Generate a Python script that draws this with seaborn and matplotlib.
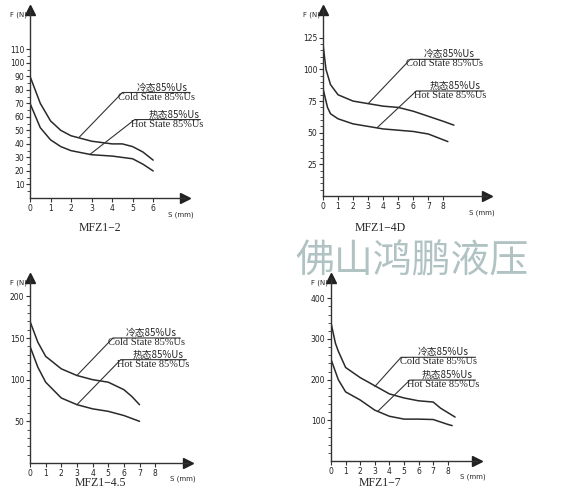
import matplotlib
matplotlib.use("Agg")
import matplotlib.pyplot as plt
import seaborn as sns
import pandas as pd

sns.set_theme(style="white")
plt.rcParams['font.family'] = ['DejaVu Sans', 'Noto Sans CJK SC']

# ---- data ----
p1_cold_x = [0, 0.5, 1, 1.5, 2, 3, 4, 4.5, 5, 5.5, 6]
p1_cold_y = [90, 70, 57, 50, 46, 42, 40, 40, 38, 34, 28]
p1_hot_x = [0, 0.5, 1, 1.5, 2, 3, 4, 5, 5.5, 6]
p1_hot_y = [70, 52, 43, 38, 35, 32, 31, 29, 25, 20]
p1_ticks_y = [10, 20, 30, 40, 50, 60, 70, 80, 90, 100, 110]
p1_ticks_x = [0, 1, 2, 3, 4, 5, 6]

p2_cold_x = [0, 0.2, 0.5, 1, 2, 3, 4, 5, 6, 7, 8, 8.7]
p2_cold_y = [120, 100, 88, 80, 75, 73, 71, 70, 67, 63, 59, 56]
p2_hot_x = [0, 0.3, 0.5, 1, 2, 3, 4, 5, 6, 7, 8.3]
p2_hot_y = [85, 70, 65, 61, 57, 55, 53, 52, 51, 49, 43]
p2_ticks_y = [25, 50, 75, 100, 125]
p2_ticks_x = [0, 1, 2, 3, 4, 5, 6, 7, 8]

p3_cold_x = [0, 0.5, 1, 2, 3, 4, 5, 6, 6.5, 7]
p3_cold_y = [170, 145, 128, 113, 105, 100, 97, 88, 80, 70]
p3_hot_x = [0, 0.5, 1, 2, 3, 4, 5, 6, 7]
p3_hot_y = [140, 115, 97, 78, 70, 65, 62, 57, 50]
p3_ticks_y = [50, 100, 150, 200]
p3_ticks_x = [0, 1, 2, 3, 4, 5, 6, 7, 8]

p4_cold_x = [0, 0.3, 0.5, 1, 2, 3, 4, 5, 6, 7, 7.5, 8.5]
p4_cold_y = [340, 290, 270, 230, 205, 185, 165, 155, 148, 145, 130, 108]
p4_hot_x = [0, 0.5, 1, 2, 3, 4, 5, 6, 7, 8, 8.3]
p4_hot_y = [250, 200, 170, 150, 125, 110, 103, 103, 102, 90, 87]
p4_ticks_y = [100, 200, 300, 400]
p4_ticks_x = [0, 1, 2, 3, 4, 5, 6, 7, 8]

titles = ["MFZ1-2", "MFZ1-4D", "MFZ1-4.5", "MFZ1-7"]
cold_label = ("冷态85%Us", "Cold State 85%Us")
hot_label = ("热态85%Us", "Hot State 85%Us")

W, H = 578, 500
fig = plt.figure(figsize=(W / 100, H / 100), dpi=100)

cfg = [
    dict(px=30, py=198, pxe=185, pyt=10, xmax=7.55, ymax=139, minor=5,
         cl=(2.4, 45, 4.5, 78, 7.8), hl=(2.9, 32, 5.1, 58, 8.3), t=(100, 228)),
    dict(px=323, py=196, pxe=487, pyt=10, xmax=10.9, ymax=147, minor=5,
         cl=(3.0, 73, 5.8, 108, 10.4), hl=(3.6, 54, 6.2, 83, 10.7), t=(380, 228)),
    dict(px=30, py=463, pxe=188, pyt=278, xmax=10.1, ymax=222, minor=10,
         cl=(3.0, 105, 5.3, 150, 9.6), hl=(3.0, 70, 5.8, 124, 10.0), t=(100, 483)),
    dict(px=331, py=461, pxe=477, pyt=278, xmax=10.0, ymax=450, minor=20,
         cl=(3.0, 183, 4.8, 255, 9.9), hl=(3.2, 122, 5.4, 199, 9.9), t=(380, 483)),
]
data = [
    (p1_cold_x, p1_cold_y, p1_hot_x, p1_hot_y, p1_ticks_x, p1_ticks_y),
    (p2_cold_x, p2_cold_y, p2_hot_x, p2_hot_y, p2_ticks_x, p2_ticks_y),
    (p3_cold_x, p3_cold_y, p3_hot_x, p3_hot_y, p3_ticks_x, p3_ticks_y),
    (p4_cold_x, p4_cold_y, p4_hot_x, p4_hot_y, p4_ticks_x, p4_ticks_y),
]

for c, d, title in zip(cfg, data, titles):
    cx, cy, hx, hy, tx, ty = d
    ax = fig.add_axes([c['px'] / W, 1 - c['py'] / H,
                       (c['pxe'] - c['px']) / W, (c['py'] - c['pyt']) / H])
    ax.patch.set_alpha(0)
    df = pd.concat([pd.DataFrame({'S': cx, 'F': cy, 's': 'cold'}),
                    pd.DataFrame({'S': hx, 'F': hy, 's': 'hot'})])
    sns.lineplot(data=df, x='S', y='F', units='s', estimator=None,
                 color='#2a2a2a', lw=1.1, ax=ax, legend=False)
    ax.set_xlim(0, c['xmax'])
    ax.set_ylim(0, c['ymax'])
    for s in ['top', 'right']:
        ax.spines[s].set_visible(False)
    for s in ['left', 'bottom']:
        ax.spines[s].set_color('#333333')
        ax.spines[s].set_linewidth(1.0)
    ax.plot(1, 0, '>', color='#222', ms=7, transform=ax.transAxes, clip_on=False)
    ax.plot(0, 1, '^', color='#222', ms=7, transform=ax.transAxes, clip_on=False)
    ax.set_xticks(tx)
    ax.set_yticks(ty)
    ax.set_yticks([v for v in range(c['minor'], int(ty[-1]) + 1, c['minor'])], minor=True)
    ax.tick_params(axis='both', which='major', direction='out', length=3,
                   width=0.8, labelsize=5.5, pad=1, color='#333',
                   left=True, bottom=True, labelcolor='#222')
    ax.tick_params(axis='y', which='minor', direction='out', length=2,
                   width=0.6, left=True, color='#333')
    ax.set_xlabel('')
    ax.set_ylabel('')
    ax.text(-0.02, 0.99, 'F (N)', transform=ax.transAxes, fontsize=5,
            ha='right', va='top')
    ax.text(c['xmax'] * 0.97, -0.07 * c['ymax'], 'S (mm)', fontsize=5,
            ha='center', va='top')
    for (x0, y0, x1, y1, x2), lab in [(c['cl'], cold_label), (c['hl'], hot_label)]:
        ax.plot([x0, x1, x2], [y0, y1, y1], color='#333', lw=0.8, clip_on=False)
        xm = (x1 + x2) / 2
        ax.text(xm + 0.3, y1, lab[0], fontsize=7, ha='center', va='bottom',
                family=['Noto Sans CJK SC', 'DejaVu Sans'], clip_on=False)
        ax.text(xm, y1, lab[1], fontsize=7.5, ha='center', va='top',
                family='Liberation Serif', clip_on=False)
    fig.text(c['t'][0] / W, 1 - c['t'][1] / H, title.replace('-', '−'),
             fontsize=8.5, family='Liberation Serif', ha='center', va='center')

fig.text(412 / W, 1 - 261 / H, '佛山鸿鹏液压', fontsize=28, color='#a3b8b8',
         family=['Noto Sans CJK SC'], ha='center', va='center',
         fontweight='light', alpha=0.85)

fig.savefig('out.png', dpi=100, facecolor='white')
